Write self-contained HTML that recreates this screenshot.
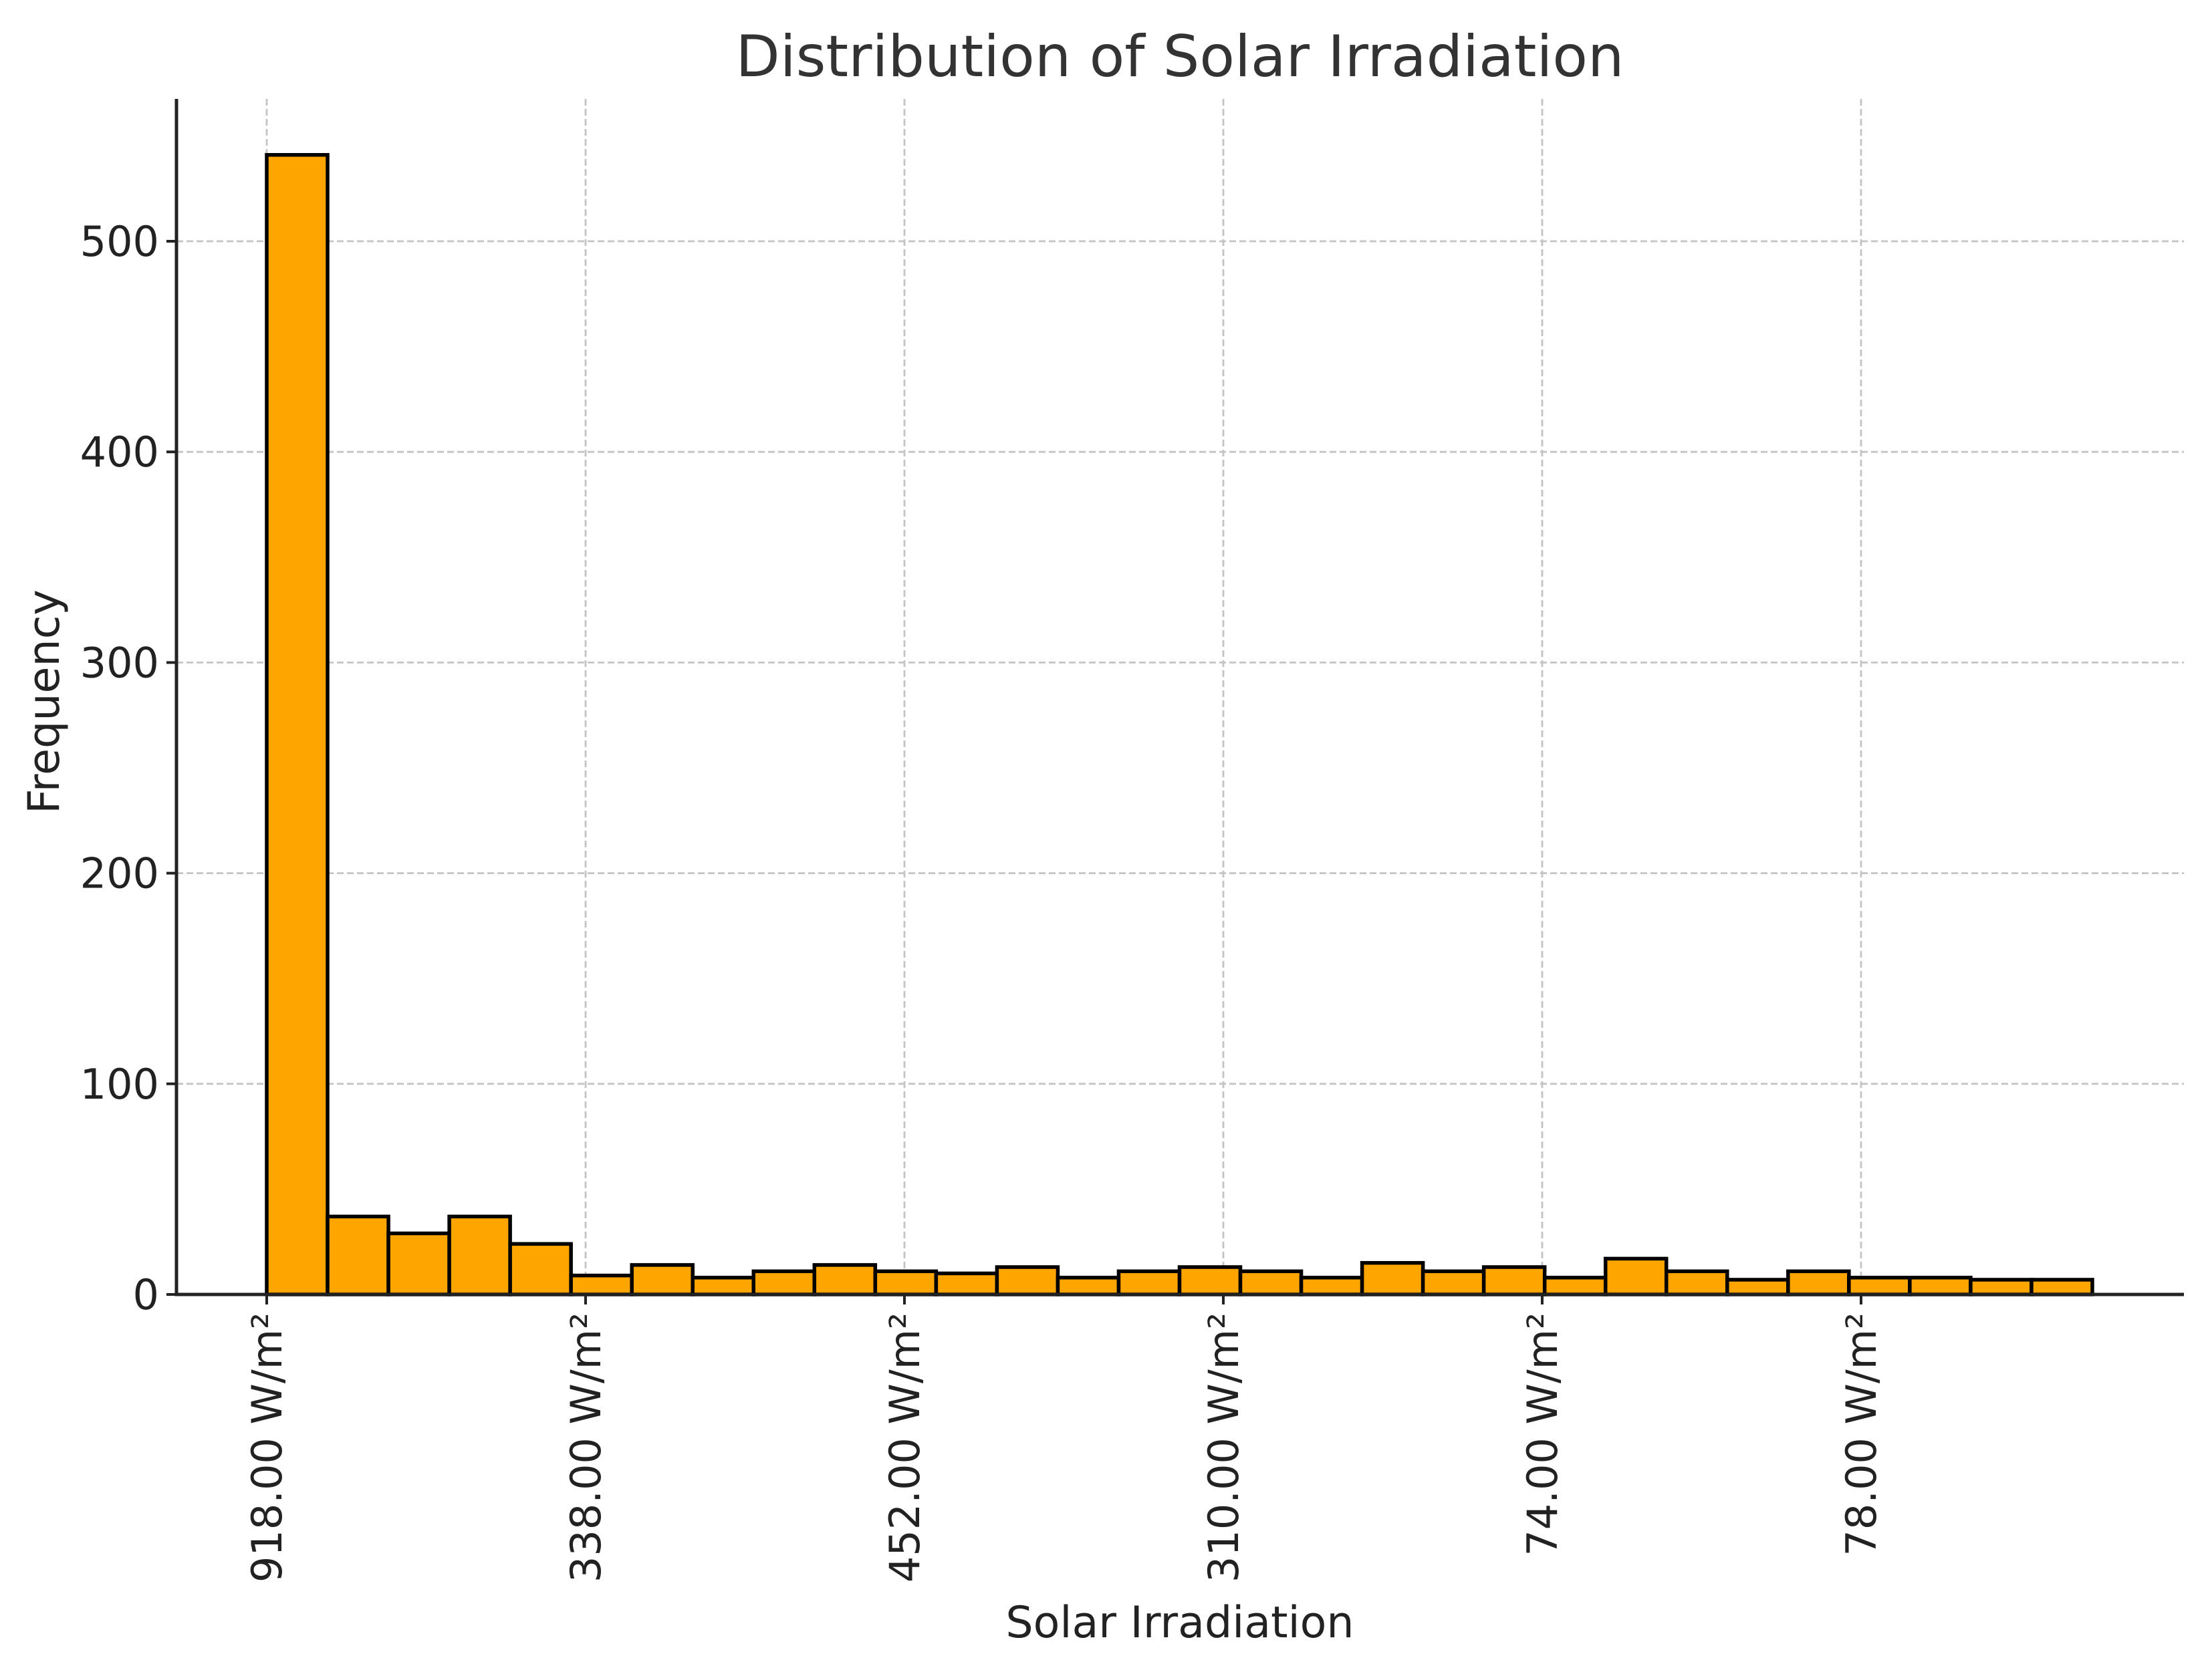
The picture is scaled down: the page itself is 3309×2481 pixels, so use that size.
<!DOCTYPE html>
<html><head><meta charset="utf-8"><style>html,body{margin:0;padding:0;background:#fff}svg{display:block}</style></head>
<body>
<svg id="chart" width="3309" height="2481" xmlns="http://www.w3.org/2000/svg" font-family="'DejaVu Sans','Liberation Sans',sans-serif">
<text x="1765" y="114" font-size="86" fill="#333" text-anchor="middle">Distribution of Solar Irradiation</text>
<text x="1765" y="2450" font-size="65" fill="#222" text-anchor="middle">Solar Irradiation</text>
<text transform="translate(88,1050) rotate(-90)" font-size="65" fill="#222" text-anchor="middle">Frequency</text>
<g id="grid"></g><g id="bars"></g><g id="axes"></g>
</svg>
<script>
const counts=[541,37,29,37,24,9,14,8,11,14,11,10,13,8,11,13,11,8,15,11,13,8,17,11,7,11,8,8,7,7];
const xTickLabels=["918.00 W/m²","338.00 W/m²","452.00 W/m²","310.00 W/m²","74.00 W/m²","78.00 W/m²"];
const yTicks=[0,100,200,300,400,500];
const NS="http://www.w3.org/2000/svg";
const L=264,R=3267,T=148,B=1937;
const barX0=399,barW=(3130-399)/counts.length,tickStep=477;
const y=v=>B-v*(B-361)/500;
const bx=i=>barX0+i*barW;
function mk(tag,attrs,parent){const e=document.createElementNS(NS,tag);for(const k in attrs)e.setAttribute(k,attrs[k]);document.getElementById(parent).appendChild(e);return e;}
yTicks.forEach(v=>{
 const g=mk('line',{x1:L,x2:R,y1:y(v),y2:y(v),stroke:'#c4c4c4','stroke-width':2.8,'stroke-dasharray':'10,5'},'grid');
 
 
 const t=mk('line',{x1:L-15,x2:L,y1:y(v),y2:y(v),stroke:'#222','stroke-width':4},'axes');
 
 
 const l=mk('text',{x:L-26,y:y(v)+22,'font-size':62,fill:'#222','text-anchor':'end'},'axes');
 l.textContent=v;
 
 
});
xTickLabels.forEach((s,i)=>{
 const x=barX0+i*tickStep;
 const g=mk('line',{x1:x,x2:x,y1:T,y2:B,stroke:'#c4c4c4','stroke-width':2.8,'stroke-dasharray':'10,5'},'grid');
 
 
 const t=mk('line',{x1:x,x2:x,y1:B,y2:B+15,stroke:'#222','stroke-width':4},'axes');
 
 
 const l=mk('text',{transform:`translate(${x+22},${B+27}) rotate(-90)`,'font-size':62,fill:'#222','text-anchor':'end'},'axes');
 l.textContent=s;
 
 
});
counts.forEach((c,i)=>{
 const r=mk('rect',{x:bx(i),y:y(c),width:barW,height:B-y(c),fill:'#ffa500',stroke:'#000','stroke-width':5.5},'bars');
 
 
});
const ax=mk('path',{d:`M${L},${T} L${L},${B} L${R},${B}`,fill:'none',stroke:'#222','stroke-width':5},'axes');


</script>
</body></html>
